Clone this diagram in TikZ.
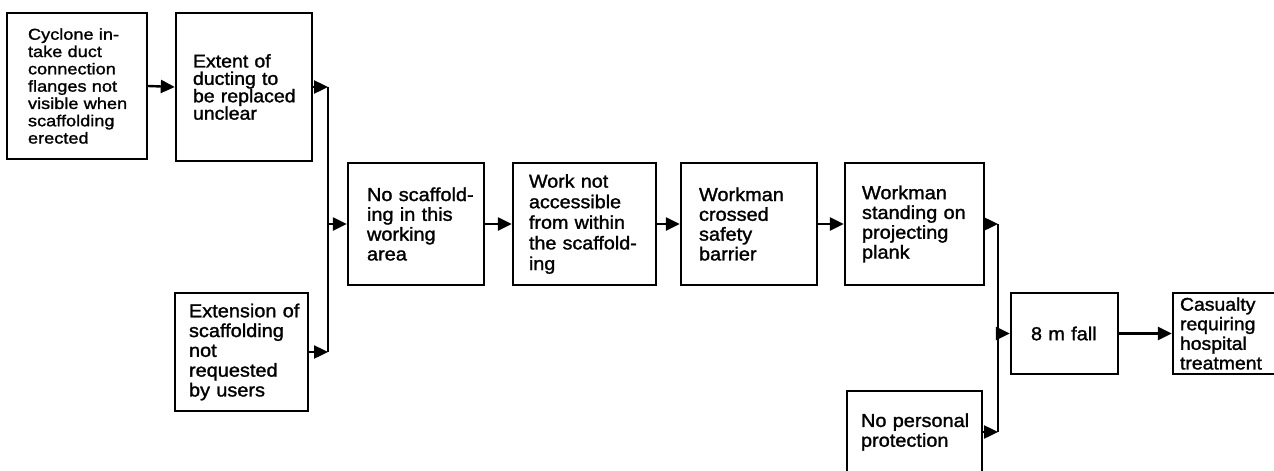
\documentclass[tikz,border=0pt]{standalone}
\usepackage{fontspec}
\setmainfont{Liberation Sans}[FakeStretch=1.06,FakeBold=1.4]
\newfontfamily\widefont{Liberation Sans}[FakeStretch=1.15,FakeBold=1.4]
\usetikzlibrary{arrows.meta}
\newcommand{\bt}[2]{\lineskiplimit=-30pt\leftskip=#1pt\relax #2\par}
\tikzset{
  box/.style={draw, line width=2.4pt, inner xsep=0pt, inner ysep=0pt,
    align=left, font=\fontsize{18.8}{19.8}\selectfont},
  conn/.style={line width=2.4pt},
  arr/.style={line width=2.4pt, -{Triangle[length=14pt,width=13pt]}},
}
\begin{document}
\begin{tikzpicture}[x=1pt,y=-1pt]
\useasboundingbox (0,0) rectangle (1274,471);
% boxes
\node[box, text width=140pt, minimum height=146pt, font=\widefont\fontsize{15.8}{17.3}\selectfont] (b1) at (77,86)
  {\bt{21}{Cyclone in-\\take duct\\connection\\flanges not\\visible when\\scaffolding\\erected}};
\node[box, text width=136pt, minimum height=148pt, font=\fontsize{18.4}{17.4}\selectfont] (b2) at (244,87)
  {\bt{17}{Extent of\\ducting to\\be replaced\\unclear}};
\node[box, text width=133pt, minimum height=118pt] (b3) at (241.5,352)
  {\bt{14}{Extension of\\scaffolding\\not\\requested\\by users}};
\node[box, text width=136pt, minimum height=122pt] (b4) at (416,224)
  {\bt{19}{No scaffold-\\ing in this\\working\\area}};
\node[box, text width=143pt, minimum height=122pt, font=\fontsize{18.6}{20.6}\selectfont] (b5) at (584.5,224)
  {\bt{16}{Work not\\accessible\\from within\\the scaffold-\\ing}};
\node[box, text width=136pt, minimum height=122pt] (b6) at (749,224)
  {\bt{18}{Workman\\crossed\\safety\\barrier}};
\node[box, text width=139pt, minimum height=122pt] (b7) at (914.5,224)
  {\bt{17}{Workman\\standing on\\projecting\\plank}};
\node[box, text width=107pt, minimum height=81pt] (b8) at (1064.5,333.5)
  {\bt{20}{8 m fall}};
\node[box, text width=117pt, minimum height=81pt, font=\fontsize{18.3}{19.6}\selectfont] (b9) at (1231.5,333.5)
  {\bt{7}{Casualty\\requiring\\hospital\\treatment}};
\node[box, text width=135pt, minimum height=82pt] (b10) at (914.5,432)
  {\bt{14}{No personal\\protection}};
% junction coordinates
\coordinate (j1) at (328,229);
\coordinate (j2) at (998,327);
% connectors
\draw[arr] (b1.east) -- (b2.west);
\draw[arr] (b2.east) -- (b2.east -| j1);
\draw[conn] (b2.east -| j1) -- (b3.east -| j1);
\draw[arr] (b3.east) -- (b3.east -| j1);
\draw[arr] (b4.west -| j1) -- (b4.west);
\draw[arr] (b4.east) -- (b5.west);
\draw[arr] (b5.east) -- (b6.west);
\draw[arr] (b6.east) -- (b7.west);
\draw[arr] (b7.east) -- (b7.east -| j2);
\draw[conn] (b7.east -| j2) -- (b10.east -| j2);
\draw[arr] (b10.east) -- (b10.east -| j2);
\draw[arr] (b8.west -| j2) -- (b8.west);
\draw[arr] (b8.east) -- (b9.west);
\end{tikzpicture}
\end{document}
